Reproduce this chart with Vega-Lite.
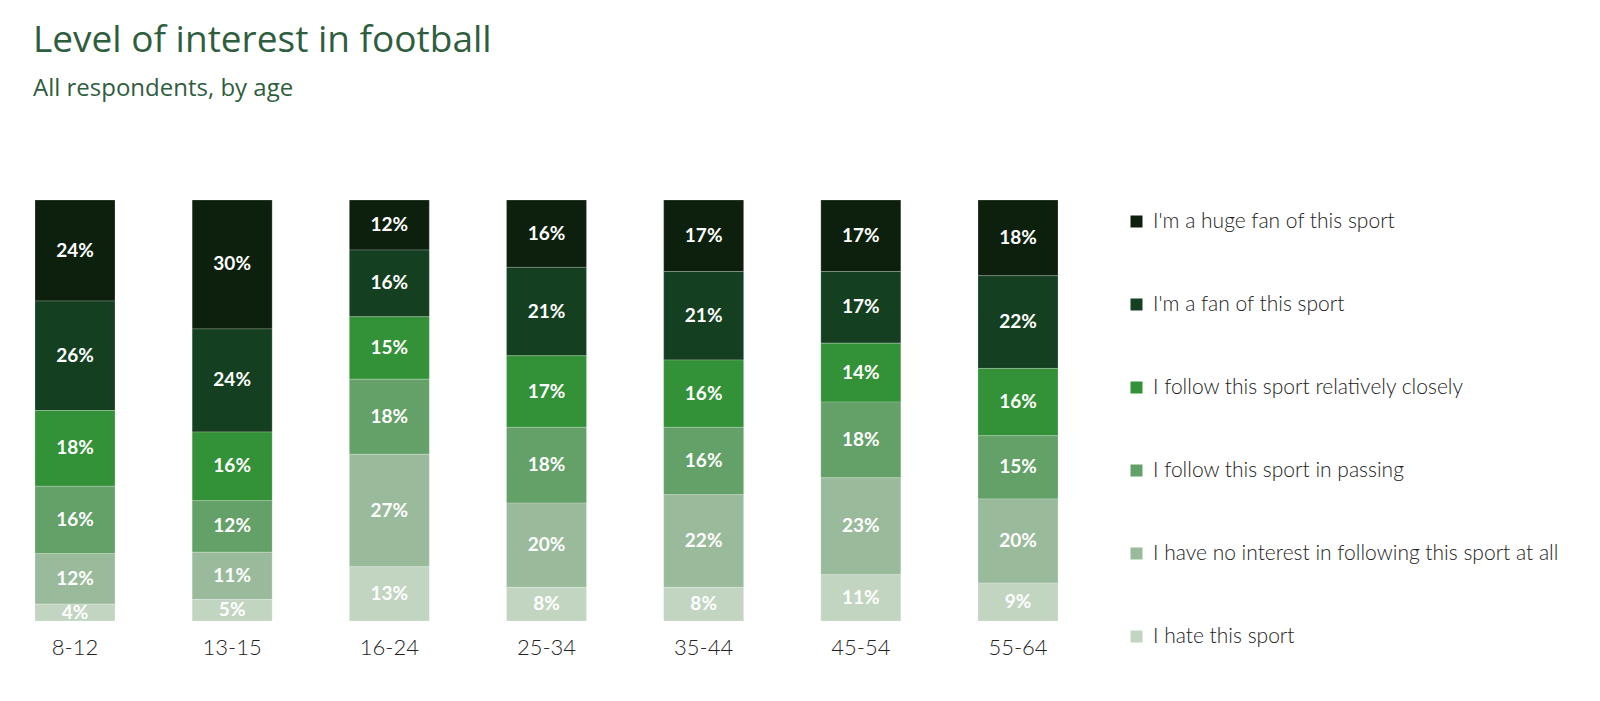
{
  "$schema": "https://vega.github.io/schema/vega-lite/v6.json",
  "width": 1093,
  "height": 421,
  "autosize": {"type": "none"},
  "padding": {"left": 0, "top": 200, "right": 507, "bottom": 80},
  "background": "white",
  "title": {
    "text": "Level of interest in football",
    "subtitle": "All respondents, by age",
    "anchor": "start",
    "frame": "group",
    "dx": 33,
    "offset": 98,
    "font": "Open Sans",
    "fontSize": 37,
    "fontWeight": "normal",
    "color": "#2f5e3f",
    "subtitleFont": "Open Sans",
    "subtitleFontSize": 24,
    "subtitleColor": "#2f5e3f",
    "subtitlePadding": 17
  },
  "data": {
    "values": [
      {"age": "8-12", "level": "I'm a huge fan of this sport", "rank": 1, "value": 24},
      {"age": "8-12", "level": "I'm a fan of this sport", "rank": 2, "value": 26},
      {"age": "8-12", "level": "I follow this sport relatively closely", "rank": 3, "value": 18},
      {"age": "8-12", "level": "I follow this sport in passing", "rank": 4, "value": 16},
      {"age": "8-12", "level": "I have no interest in following this sport at all", "rank": 5, "value": 12},
      {"age": "8-12", "level": "I hate this sport", "rank": 6, "value": 4},
      {"age": "13-15", "level": "I'm a huge fan of this sport", "rank": 1, "value": 30},
      {"age": "13-15", "level": "I'm a fan of this sport", "rank": 2, "value": 24},
      {"age": "13-15", "level": "I follow this sport relatively closely", "rank": 3, "value": 16},
      {"age": "13-15", "level": "I follow this sport in passing", "rank": 4, "value": 12},
      {"age": "13-15", "level": "I have no interest in following this sport at all", "rank": 5, "value": 11},
      {"age": "13-15", "level": "I hate this sport", "rank": 6, "value": 5},
      {"age": "16-24", "level": "I'm a huge fan of this sport", "rank": 1, "value": 12},
      {"age": "16-24", "level": "I'm a fan of this sport", "rank": 2, "value": 16},
      {"age": "16-24", "level": "I follow this sport relatively closely", "rank": 3, "value": 15},
      {"age": "16-24", "level": "I follow this sport in passing", "rank": 4, "value": 18},
      {"age": "16-24", "level": "I have no interest in following this sport at all", "rank": 5, "value": 27},
      {"age": "16-24", "level": "I hate this sport", "rank": 6, "value": 13},
      {"age": "25-34", "level": "I'm a huge fan of this sport", "rank": 1, "value": 16},
      {"age": "25-34", "level": "I'm a fan of this sport", "rank": 2, "value": 21},
      {"age": "25-34", "level": "I follow this sport relatively closely", "rank": 3, "value": 17},
      {"age": "25-34", "level": "I follow this sport in passing", "rank": 4, "value": 18},
      {"age": "25-34", "level": "I have no interest in following this sport at all", "rank": 5, "value": 20},
      {"age": "25-34", "level": "I hate this sport", "rank": 6, "value": 8},
      {"age": "35-44", "level": "I'm a huge fan of this sport", "rank": 1, "value": 17},
      {"age": "35-44", "level": "I'm a fan of this sport", "rank": 2, "value": 21},
      {"age": "35-44", "level": "I follow this sport relatively closely", "rank": 3, "value": 16},
      {"age": "35-44", "level": "I follow this sport in passing", "rank": 4, "value": 16},
      {"age": "35-44", "level": "I have no interest in following this sport at all", "rank": 5, "value": 22},
      {"age": "35-44", "level": "I hate this sport", "rank": 6, "value": 8},
      {"age": "45-54", "level": "I'm a huge fan of this sport", "rank": 1, "value": 17},
      {"age": "45-54", "level": "I'm a fan of this sport", "rank": 2, "value": 17},
      {"age": "45-54", "level": "I follow this sport relatively closely", "rank": 3, "value": 14},
      {"age": "45-54", "level": "I follow this sport in passing", "rank": 4, "value": 18},
      {"age": "45-54", "level": "I have no interest in following this sport at all", "rank": 5, "value": 23},
      {"age": "45-54", "level": "I hate this sport", "rank": 6, "value": 11},
      {"age": "55-64", "level": "I'm a huge fan of this sport", "rank": 1, "value": 18},
      {"age": "55-64", "level": "I'm a fan of this sport", "rank": 2, "value": 22},
      {"age": "55-64", "level": "I follow this sport relatively closely", "rank": 3, "value": 16},
      {"age": "55-64", "level": "I follow this sport in passing", "rank": 4, "value": 15},
      {"age": "55-64", "level": "I have no interest in following this sport at all", "rank": 5, "value": 20},
      {"age": "55-64", "level": "I hate this sport", "rank": 6, "value": 9}
    ]
  },
  "transform": [
    {"stack": "value", "groupby": ["age"], "sort": [{"field": "rank", "order": "ascending"}], "offset": "normalize", "as": ["y0", "y1"]}
  ],
  "encoding": {
    "x": {
      "field": "age",
      "type": "nominal",
      "sort": null,
      "title": null,
      "scale": {"paddingInner": 0.491, "paddingOuter": 0.2227},
      "axis": {
        "domain": false,
        "ticks": false,
        "labelAngle": 0,
        "labelFont": "Lato",
        "labelFontWeight": 300,
        "labelFontSize": 22,
        "labelColor": "#222222",
        "labelPadding": 16
      }
    }
  },
  "layer": [
    {
      "mark": {"type": "bar", "stroke": "#ffffff", "strokeWidth": 0.6, "strokeOpacity": 0.35},
      "encoding": {
        "y": {
          "field": "y0",
          "type": "quantitative",
          "scale": {"domain": [0, 1], "reverse": true, "nice": false},
          "axis": null
        },
        "y2": {"field": "y1"},
        "color": {
          "field": "level",
          "type": "nominal",
          "sort": [
            "I'm a huge fan of this sport",
            "I'm a fan of this sport",
            "I follow this sport relatively closely",
            "I follow this sport in passing",
            "I have no interest in following this sport at all",
            "I hate this sport"
          ],
          "scale": {
            "domain": [
              "I'm a huge fan of this sport",
              "I'm a fan of this sport",
              "I follow this sport relatively closely",
              "I follow this sport in passing",
              "I have no interest in following this sport at all",
              "I hate this sport"
            ],
            "range": ["#0d200d", "#143f20", "#339137", "#63a168", "#9abb9b", "#c1d5c1"]
          },
          "legend": {
            "title": null,
            "orient": "none",
            "legendX": 1126,
            "legendY": 11,
            "padding": 0,
            "symbolType": "square",
            "symbolSize": 144,
            "symbolStrokeWidth": 0,
            "labelFont": "Lato",
            "labelFontWeight": 300,
            "labelFontSize": 21,
            "labelColor": "#222222",
            "labelOffset": 6,
            "labelLimit": 600,
            "rowPadding": 61
          }
        }
      }
    },
    {
      "transform": [{"calculate": "(datum.y0 + datum.y1) / 2", "as": "ymid"}],
      "mark": {"type": "text", "font": "Lato", "fontWeight": "bold", "fontSize": 19, "color": "#ffffff", "baseline": "middle", "align": "center"},
      "encoding": {
        "y": {"field": "ymid", "type": "quantitative", "scale": {"domain": [0, 1], "reverse": true, "nice": false}, "axis": null},
        "text": {"value": {"expr": "datum.value + '%'"}},
        "detail": {"field": "level"}
      }
    }
  ],
  "config": {"view": {"stroke": null}}
}
